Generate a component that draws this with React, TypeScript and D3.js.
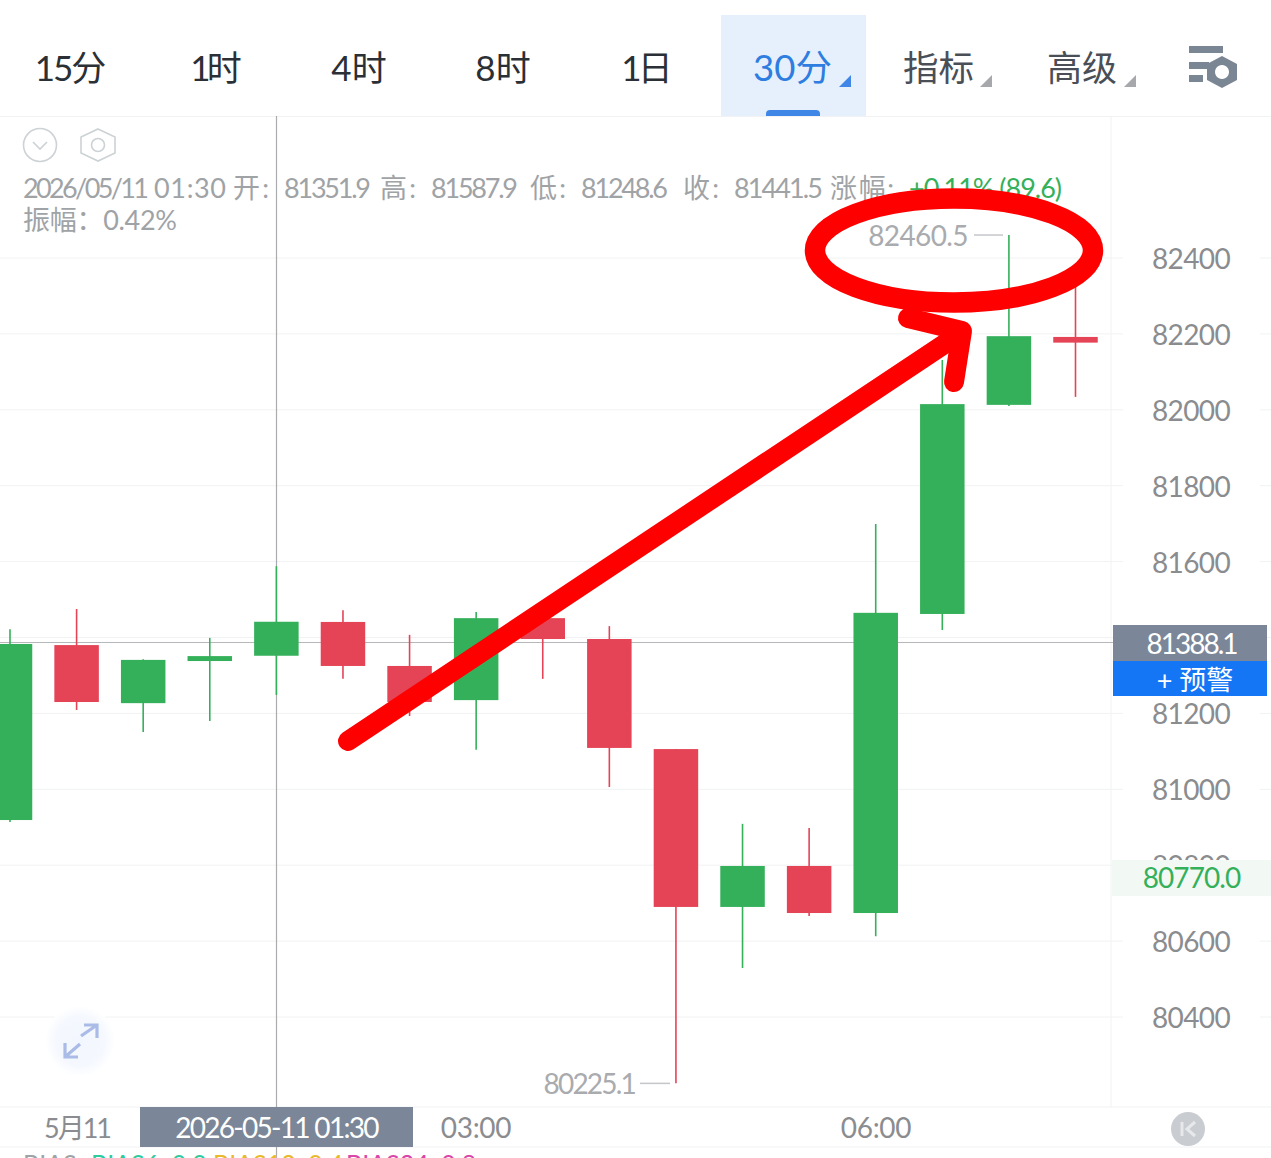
import React from 'react';
import * as d3 from 'd3';

const tabLabels = ['15分', '1时', '4时', '8时', '1日'];
const tabCenters = [69.5, 214, 359, 503, 645];
const tabSpacing = [-2, -4, 0, 0, -4];
const yTicks = [82400, 82200, 82000, 81800, 81600, 81400, 81200, 81000, 80800, 80600, 80400];
const hiddenTicks = [81400];
const candleIndex = d3.range(17);
const opens = [80919, 81380, 81227, 81338, 81351.9, 81441, 81325, 81235, 81451, 81396, 81106, 80690, 80798, 80674, 81462, 82013, 82192];
const closes = [81383, 81230, 81341, 81351, 81441.5, 81325, 81230, 81451, 81396, 81109, 80690, 80798, 80674, 81465, 82015, 82194, 82177];
const highs = [81422, 81475, 81343, 81399, 81587.9, 81472, 81407, 81467, 81451, 81430, 81106, 80909, 80898, 81699, 82131, 82460.5, 82329];
const lows = [80914, 81209, 81151, 81180, 81248.6, 81291, 81193, 81104, 81291, 81006, 80225.1, 80529, 80666, 80613, 81420, 82010, 82034];
const kinds = ['up', 'down', 'up', 'up', 'up', 'down', 'down', 'up', 'down', 'down', 'down', 'up', 'down', 'up', 'up', 'up', 'down'];
const infoTexts = ['2026/05/11', '01:30', '开:', '81351.9', '高:', '81587.9', '低:', '81248.6', '收:', '81441.5', '涨幅:'];
const infoStarts = [23, 154, 233, 284, 380, 431, 530, 581, 683, 734, 830];
const infoWidths = [126, 72, 36, 87, 36, 87, 36, 87, 36, 89, 64];

const FONT = '"Lato", "Noto Sans CJK SC", sans-serif';
const GREEN = '#35B05A';
const RED = '#E44456';
const GRID = '#F1F2F4';

export default function App() {
  const y = d3.scaleLinear().domain([80400, 82400]).range([1017, 258]);
  const x = d3.scaleLinear().domain([0, 16]).range([10, 1075.5]);
  const bw = 44.5;
  return (
    <svg width={1271} height={1158} viewBox="0 0 1271 1158" style={{ position: 'absolute', left: 0, top: 0, background: '#fff', fontFamily: FONT }}>
      <defs>
        <radialGradient id="glow">
          <stop offset="0%" stopColor="#F2F6FE" />
          <stop offset="70%" stopColor="#F5F8FE" />
          <stop offset="100%" stopColor="#FFFFFF" />
        </radialGradient>
      </defs>
      {/* tab bar */}
      <rect x={721} y={15} width={145} height={101} fill="#E6F0FC" />
      <path d="M766 116 V114 Q766 110 770 110 H816 Q820 110 820 114 V116 Z" fill="#3F86E6" />
      {tabLabels.map((t, i) => (
        <text key={t} x={tabCenters[i]} y={81} textAnchor="middle" fontSize={35} fill="#2B2F36" letterSpacing={tabSpacing[i]}>{t}</text>
      ))}
      <text x={792.5} y={81} textAnchor="middle" fontSize={36.5} fill="#2E7DE0">30分</text>
      <path d="M851 75 V87 H839 Z" fill="#3F86E6" />
      <text x={938.5} y={81} textAnchor="middle" fontSize={35.5} fill="#4A4F57">指标</text>
      <path d="M992 75 V87 H980 Z" fill="#A6A8AC" />
      <text x={1082} y={81} textAnchor="middle" fontSize={35} fill="#4A4F57">高级</text>
      <path d="M1136 75 V87 H1124 Z" fill="#A6A8AC" />
      <g fill="#7B8695">
        <rect x={1189} y={46} width={34} height={7} />
        <rect x={1189} y={62} width={20} height={7} />
        <rect x={1189} y={75} width={14} height={7} />
        <path fillRule="evenodd" d="M1222 56 L1237 64 V80 L1222 88 L1207 80 V64 Z M1222 65 a7 7 0 1 0 0.01 0 Z" />
      </g>

      {/* frame */}
      <line x1={0} x2={1271} y1={116.5} y2={116.5} stroke={GRID} />
      <line x1={1111} x2={1111} y1={116} y2={1107} stroke={GRID} />
      <line x1={0} x2={1271} y1={1107} y2={1107} stroke={GRID} />
      <line x1={0} x2={1271} y1={1147} y2={1147} stroke={GRID} />
      {yTicks.map(t => (
        <g key={t}>
          <line x1={0} x2={1123} y1={y(t)} y2={y(t)} stroke={GRID} />
          <line x1={1260} x2={1271} y1={y(t)} y2={y(t)} stroke={GRID} />
        </g>
      ))}

      {/* crosshair */}
      <line x1={276.5} x2={276.5} y1={116} y2={1158} stroke="#A9ABAE" strokeWidth={1.2} />
      <line x1={0} x2={1113} y1={642.5} y2={642.5} stroke="#B5B7BA" strokeWidth={1.1} />

      {/* candles */}
      {candleIndex.map(i => {
        const c = kinds[i] === 'up' ? GREEN : RED;
        const top = y(Math.max(opens[i], closes[i]));
        const bot = y(Math.min(opens[i], closes[i]));
        return (
          <g key={i}>
            <line x1={x(i)} x2={x(i)} y1={y(highs[i])} y2={y(lows[i])} stroke={c} strokeWidth={1.6} />
            <rect x={x(i) - bw / 2} y={top} width={bw} height={Math.max(bot - top, 2)} fill={c} />
          </g>
        );
      })}

      {/* high / low marks */}
      <text x={968} y={245.5} textAnchor="end" fontSize={28} fill="#A9ABAE" letterSpacing={-0.6}>82460.5</text>
      <line x1={974} x2={1003} y1={y(82460.5)} y2={y(82460.5)} stroke="#C4C6C9" strokeWidth={1.5} />
      <text x={635} y={1094} textAnchor="end" fontSize={28} fill="#A9ABAE" letterSpacing={-1.8}>80225.1</text>
      <line x1={640} x2={670} y1={y(80225.1)} y2={y(80225.1)} stroke="#C4C6C9" strokeWidth={1.5} />

      {/* info */}
      <circle cx={40} cy={145} r={16.5} fill="none" stroke="#CDD2D5" strokeWidth={1.6} />
      <path d="M33 142 L40 149 L47 142" fill="none" stroke="#CDD2D5" strokeWidth={1.6} />
      <path d="M98 129 L115 137 V153 L98 161 L81 153 V137 Z" fill="none" stroke="#CDD2D5" strokeWidth={1.6} />
      <circle cx={98} cy={145} r={6.5} fill="none" stroke="#CDD2D5" strokeWidth={1.6} />
      {infoTexts.map((t, i) => (
        <text key={t + i} x={infoStarts[i]} y={198} fontSize={27} fill="#A0A3A6" textLength={infoWidths[i]} lengthAdjust="spacing">{t}</text>
      ))}
      <text x={909} y={198} fontSize={27} fill={GREEN} textLength={153} lengthAdjust="spacing">+0.11% (89.6)</text>
      <text x={23} y={230} fontSize={27} fill="#A0A3A6" textLength={154} lengthAdjust="spacing">振幅：0.42%</text>

      {/* y axis labels */}
      {yTicks.filter(t => !hiddenTicks.includes(t)).map(t => (
        <text key={t} x={1191} y={y(t) + 11} textAnchor="middle" fontSize={28} fill="#8A8C8F" letterSpacing={-0.6}>{t}</text>
      ))}
      <rect x={1113} y={625} width={154} height={36} fill="#7B8798" />
      <text x={1191.5} y={654} textAnchor="middle" fontSize={28} fill="#fff" letterSpacing={-2}>81388.1</text>
      <rect x={1113} y={661} width={154} height={35} fill="#1476F5" />
      <text x={1195} y={690} textAnchor="middle" fontSize={27} fill="#fff">+ 预警</text>
      <rect x={1112} y={860} width={159} height={36} fill="#F2F9F4" />
      <text x={1191.5} y={888} textAnchor="middle" fontSize={28} fill={GREEN} letterSpacing={-0.9}>80770.0</text>

      {/* x axis */}
      <text x={77} y={1138} textAnchor="middle" fontSize={27} fill="#8A8C8F" letterSpacing={-2}>5月11</text>
      <rect x={140} y={1107} width={273} height={40} fill="#7B8798" />
      <text x={276.5} y={1138} textAnchor="middle" fontSize={28} fill="#fff" letterSpacing={-1.7}>2026-05-11 01:30</text>
      <text x={476} y={1138} textAnchor="middle" fontSize={28} fill="#8A8C8F" letterSpacing={-0.3}>03:00</text>
      <text x={876} y={1138} textAnchor="middle" fontSize={28} fill="#8A8C8F" letterSpacing={-0.3}>06:00</text>
      <circle cx={1188} cy={1129} r={17} fill="#C9CCD0" />
      <path d="M1182 1122 V1136 M1195 1122 L1187 1129 L1195 1136" fill="none" stroke="#E6E8EA" strokeWidth={3} />
      <text x={23} y={1173} fontSize={25} fill="#A0A3A6">BIAS</text>
      <text x={91} y={1173} fontSize={25} fill="#2FCB9E">BIAS6: 0.0</text>
      <text x={213} y={1173} fontSize={25} fill="#E8B92B">BIAS12: 0.4</text>
      <text x={346} y={1173} fontSize={25} fill="#D846A8">BIAS24: 0.8</text>

      {/* expand button */}
      <circle cx={80} cy={1041} r={35} fill="url(#glow)" />
      <g fill="none" stroke="#A9BBE6" strokeWidth={3.2}>
        <path d="M81 1036 L97 1025 M84 1025 H97 V1038" />
        <path d="M80 1044 L65 1057 M65 1043 V1057 H78" />
      </g>

      {/* hand annotation */}
      <g fill="none" stroke="#FE0000" strokeLinecap="round" strokeLinejoin="round">
        <ellipse cx={954} cy={250.5} rx={139} ry={52} strokeWidth={20.5} />
        <path d="M348 741 L958 335" strokeWidth={20} />
        <path d="M908 318 L962 331 L954 382" strokeWidth={20} />
      </g>
    </svg>
  );
}
